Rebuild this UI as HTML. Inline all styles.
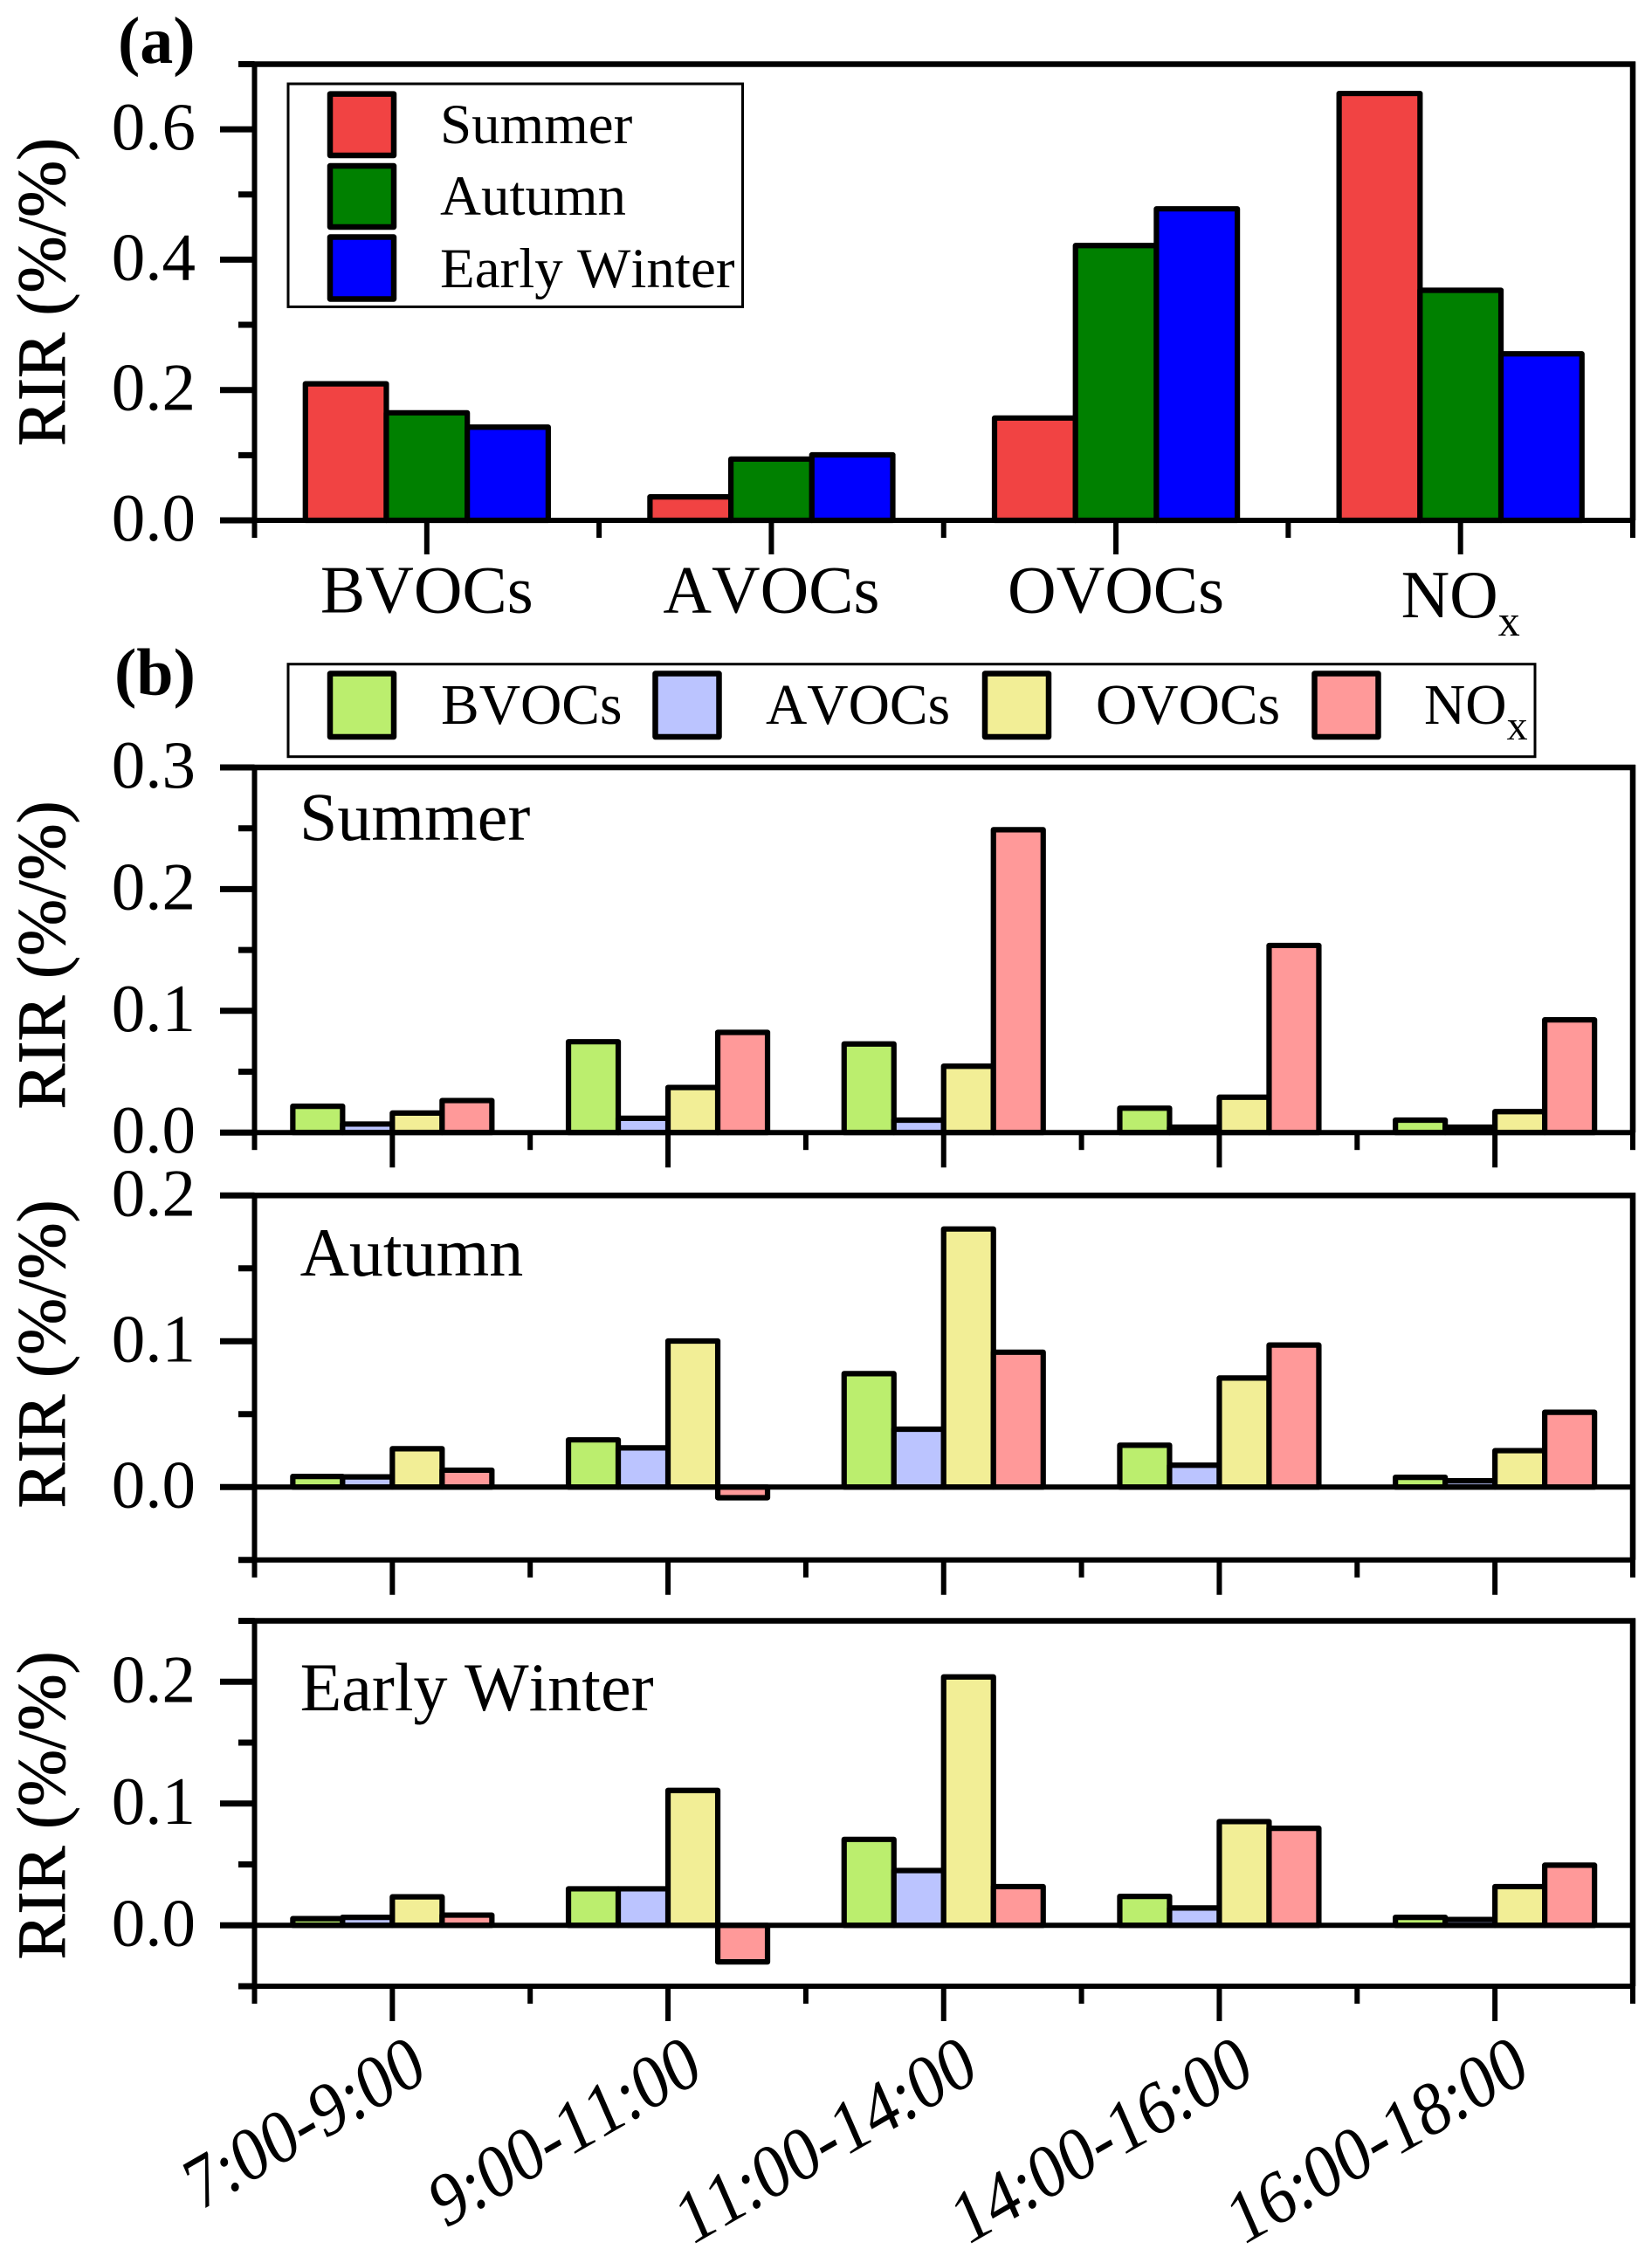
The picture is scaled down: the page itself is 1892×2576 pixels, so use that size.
<!DOCTYPE html>
<html lang="en">
<head>
<meta charset="utf-8">
<title>RIR by season and time of day</title>
<style>
html,body{margin:0;padding:0;background:#fff;}
svg{display:block;}
text{font-family:"Liberation Serif",serif;fill:#000;font-kerning:none;}
</style>
</head>
<body>
<svg id="chart" xmlns="http://www.w3.org/2000/svg" width="1892" height="2576" viewBox="0 0 1892 2576">
  <rect x="0" y="0" width="1892" height="2576" fill="#fff"/>
  <g id="plots"></g>

  <text x="135" y="72" font-size="76" font-weight="bold">(a)</text>
  <text x="131" y="795.5" font-size="76" font-weight="bold">(b)</text>

  <g>
    <rect x="330" y="96" width="520.5" height="255.4" fill="#fff" stroke="#000" stroke-width="3"/>
    <rect x="378" y="107.6" width="73" height="70.4" fill="#F14343" stroke="#000" stroke-width="6.5" stroke-linejoin="round"/>
    <text x="504" y="164" font-size="65">Summer</text>
    <rect x="378" y="190" width="73" height="70" fill="#008000" stroke="#000" stroke-width="6.5" stroke-linejoin="round"/>
    <text x="504" y="246" font-size="65">Autumn</text>
    <rect x="378" y="271.5" width="73" height="71" fill="#0000FF" stroke="#000" stroke-width="6.5" stroke-linejoin="round"/>
    <text x="504" y="329" font-size="65">Early Winter</text>
  </g>

  <g>
    <rect x="330" y="760.7" width="1428" height="106" fill="#fff" stroke="#000" stroke-width="3"/>
    <rect x="378" y="771.5" width="73" height="72.5" fill="#BBEE6E" stroke="#000" stroke-width="6.5" stroke-linejoin="round"/>
    <text x="505" y="829" font-size="65.5">BVOCs</text>
    <rect x="750.5" y="771.5" width="73" height="72.5" fill="#BBC4FF" stroke="#000" stroke-width="6.5" stroke-linejoin="round"/>
    <text x="877" y="829" font-size="65.5">AVOCs</text>
    <rect x="1128" y="771.5" width="73" height="72.5" fill="#F2EE96" stroke="#000" stroke-width="6.5" stroke-linejoin="round"/>
    <text x="1255" y="829" font-size="65.5">OVOCs</text>
    <rect x="1505.5" y="771.5" width="73" height="72.5" fill="#FF9999" stroke="#000" stroke-width="6.5" stroke-linejoin="round"/>
    <text x="1631" y="829" font-size="65.5">NO<tspan font-size="48" dy="18">x</tspan></text>
  </g>

  <text x="343" y="962" font-size="78">Summer</text>
  <text x="343.6" y="1461" font-size="78">Autumn</text>
  <text x="343.6" y="1959" font-size="78">Early Winter</text>
</svg>

<script>
// Panel (a)
const speciesCategories = ['BVOCs', 'AVOCs', 'OVOCs', 'NOx'];
const seriesSummer = [0.2095, 0.036, 0.157, 0.655];
const seriesAutumn = [0.165, 0.094, 0.4216, 0.353];
const seriesEarlyWinter = [0.143, 0.1005, 0.478, 0.2555];

// Panel (b)
const timeCategories = ['7:00-9:00', '9:00-11:00', '11:00-14:00', '14:00-16:00', '16:00-18:00'];

const summerBVOCs = [0.0216, 0.0746, 0.0728, 0.020, 0.0102];
const summerAVOCs = [0.007, 0.0117, 0.0102, 0.0044, 0.0044];
const summerOVOCs = [0.016, 0.037, 0.0545, 0.029, 0.0172];
const summerNOx = [0.0263, 0.0823, 0.2488, 0.1537, 0.0926];

const autumnBVOCs = [0.0073, 0.0324, 0.0778, 0.0287, 0.0067];
const autumnAVOCs = [0.007, 0.0269, 0.0397, 0.015, 0.0043];
const autumnOVOCs = [0.0263, 0.1002, 0.177, 0.0748, 0.025];
const autumnNOx = [0.0116, -0.0073, 0.0925, 0.0974, 0.0513];

const winterBVOCs = [0.0055, 0.030, 0.0706, 0.0238, 0.0066];
const winterAVOCs = [0.0066, 0.030, 0.045, 0.0143, 0.0048];
const winterOVOCs = [0.0234, 0.1108, 0.204, 0.0852, 0.0318];
const winterNOx = [0.0084, -0.030, 0.0318, 0.0797, 0.0494];

// Tick values and labels
const ticksA = [0, 0.2, 0.4, 0.6];
const tickLabelsA = ['0.0', '0.2', '0.4', '0.6'];
const minorTicksA = [0.1, 0.3, 0.5, 0.7];
const ticksSummer = [0, 0.1, 0.2, 0.3];
const tickLabelsSummer = ['0.0', '0.1', '0.2', '0.3'];
const minorTicksSummer = [0.05, 0.15, 0.25];
const ticksAutumn = [0, 0.1, 0.2];
const tickLabelsAutumn = ['0.0', '0.1', '0.2'];
const minorTicksAutumn = [-0.05, 0.05, 0.15];
const ticksWinter = [0, 0.1, 0.2];
const tickLabelsWinter = ['0.0', '0.1', '0.2'];
const minorTicksWinter = [-0.05, 0.05, 0.15, 0.25];

const seasonColors = ['#F14343', '#008000', '#0000FF'];
const speciesColors = ['#BBEE6E', '#BBC4FF', '#F2EE96', '#FF9999'];

const NS = 'http://www.w3.org/2000/svg';
const root = document.getElementById('plots');
const LEFT = 291.5, RIGHT = 1870;

function svgEl(tag, attrs, parent) {
  const el = document.createElementNS(NS, tag);
  for (const k in attrs) el.setAttribute(k, attrs[k]);
  parent.appendChild(el);
  return el;
}

function line(x1, y1, x2, y2, w, parent, name) {
  const el = svgEl('line', { x1: x1, y1: y1, x2: x2, y2: y2, stroke: '#000', 'stroke-width': w }, parent);
  
  
  return el;
}

function drawPanel(p) {
  const g = svgEl('g', {}, root);
  
  

  const yPos = v => p.zeroY - v * p.pxPerUnit;
  const step = (RIGHT - LEFT) / p.categories.length;
  const xCenter = i => LEFT + step * (i + 0.5);
  const bottomY = yPos(p.yMin);
  const topY = yPos(p.yMax);
  const groupWidth = p.barWidth * p.series.length;

  // bars
  p.series.forEach((vals, s) => {
    vals.forEach((v, i) => {
      const x = xCenter(i) - groupWidth / 2 + s * p.barWidth;
      const y = Math.min(yPos(v), yPos(0));
      const h = Math.abs(yPos(v) - yPos(0));
      const bar = svgEl('rect', {
        x: x, y: y, width: p.barWidth, height: h, fill: p.colors[s],
        stroke: '#000', 'stroke-width': 6.2, 'stroke-linejoin': 'round'
      }, g);
      
      
    });
  });

  // frame
  line(LEFT - 3, topY, RIGHT + 3, topY, 6.5, g, 'top-border-' + p.id);
  line(LEFT, topY, LEFT, bottomY, 6, g, 'y-axis-line-' + p.id);
  line(RIGHT, topY - 3, RIGHT, bottomY, 6.5, g, 'right-border-' + p.id);
  line(LEFT - 3, bottomY, RIGHT + 3, bottomY, 6, g, 'x-axis-line-' + p.id);
  if (p.yMin < 0) line(LEFT - 3, yPos(0), RIGHT + 3, yPos(0), 6, g, 'zero-line-' + p.id);

  // y ticks
  p.ticks.forEach((v, i) => {
    line(252, yPos(v), LEFT, yPos(v), 7, g, 'y-tick-' + p.id);
    const t = svgEl('text', { x: 224, y: yPos(v) + 23, 'font-size': 77, 'text-anchor': 'end' }, g);
    t.textContent = p.tickLabels[i];
    
    
  });
  p.minorTicks.forEach(v => {
    line(273, yPos(v), LEFT, yPos(v), 7, g, 'y-minor-tick-' + p.id);
  });

  // x ticks
  for (let i = 0; i <= p.categories.length; i++) {
    line(LEFT + step * i, bottomY, LEFT + step * i, bottomY + p.minorLen, 6, g, 'x-minor-tick-' + p.id);
  }
  p.categories.forEach((c, i) => {
    line(xCenter(i), bottomY, xCenter(i), bottomY + p.majorLen, 6, g, 'x-tick-' + p.id);
  });

  // y title
  const title = svgEl('text', {
    transform: 'translate(74,' + p.titleY + ') rotate(-90)',
    'font-size': 78, 'text-anchor': 'middle', stroke: '#000', 'stroke-width': 0.8
  }, g);
  title.textContent = 'RIR (%/%)';
  
  

  // x labels
  if (p.labelMode === 'flat') {
    p.categories.forEach((c, i) => {
      const isNox = c === 'NOx';
      const t = svgEl('text', {
        x: xCenter(i), y: isNox ? 707 : 701.5, 'font-size': 77, 'text-anchor': 'middle'
      }, g);
      if (isNox) {
        t.appendChild(document.createTextNode('NO'));
        const sub = svgEl('tspan', { 'font-size': 50, dy: 21 }, t);
        sub.textContent = 'x';
      } else {
        t.textContent = c;
      }
      
      
    });
  } else if (p.labelMode === 'rotated') {
    p.categories.forEach((c, i) => {
      const t = svgEl('text', {
        transform: 'translate(' + (xCenter(i) + 42) + ',2381) scale(1,1.15) rotate(-26.7)',
        'font-size': 76, 'text-anchor': 'end'
      }, g);
      t.textContent = c;
      
      
    });
  }
}

drawPanel({
  id: 'a', categories: speciesCategories,
  series: [seriesSummer, seriesAutumn, seriesEarlyWinter],
  seriesNames: ['summer', 'autumn', 'early-winter'], colors: seasonColors,
  zeroY: 596, pxPerUnit: 746.5, yMin: 0, yMax: 0.7, barWidth: 92.7,
  ticks: ticksA, tickLabels: tickLabelsA, minorTicks: minorTicksA,
  majorLen: 39, minorLen: 20, titleY: 334.5, labelMode: 'flat'
});
drawPanel({
  id: 'summer', categories: timeCategories,
  series: [summerBVOCs, summerAVOCs, summerOVOCs, summerNOx],
  seriesNames: ['bvocs', 'avocs', 'ovocs', 'nox'], colors: speciesColors,
  zeroY: 1297.2, pxPerUnit: 1394, yMin: 0, yMax: 0.3, barWidth: 57,
  ticks: ticksSummer, tickLabels: tickLabelsSummer, minorTicks: minorTicksSummer,
  majorLen: 40, minorLen: 20, titleY: 1094, labelMode: 'none'
});
drawPanel({
  id: 'autumn', categories: timeCategories,
  series: [autumnBVOCs, autumnAVOCs, autumnOVOCs, autumnNOx],
  seriesNames: ['bvocs', 'avocs', 'ovocs', 'nox'], colors: speciesColors,
  zeroY: 1703.3, pxPerUnit: 1670, yMin: -0.05, yMax: 0.2, barWidth: 57,
  ticks: ticksAutumn, tickLabels: tickLabelsAutumn, minorTicks: minorTicksAutumn,
  majorLen: 40, minorLen: 20, titleY: 1551, labelMode: 'none'
});
drawPanel({
  id: 'early-winter', categories: timeCategories,
  series: [winterBVOCs, winterAVOCs, winterOVOCs, winterNOx],
  seriesNames: ['bvocs', 'avocs', 'ovocs', 'nox'], colors: speciesColors,
  zeroY: 2205.3, pxPerUnit: 1395, yMin: -0.05, yMax: 0.25, barWidth: 57,
  ticks: ticksWinter, tickLabels: tickLabelsWinter, minorTicks: minorTicksWinter,
  majorLen: 40, minorLen: 20, titleY: 2068, labelMode: 'rotated'
});
</script>
</body>
</html>
